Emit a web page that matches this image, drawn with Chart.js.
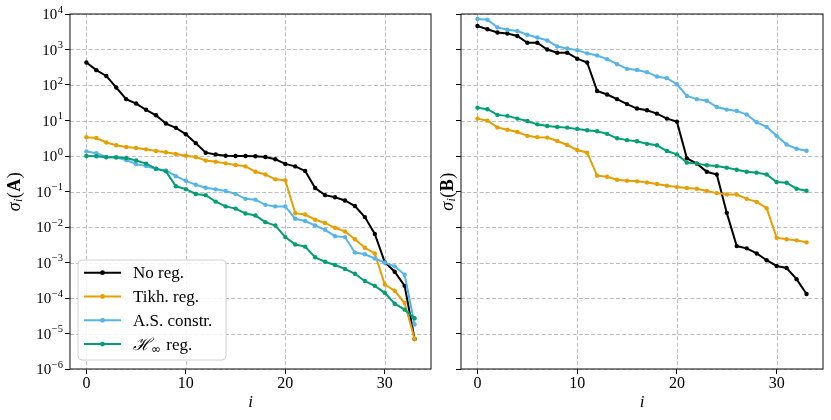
<!DOCTYPE html>
<html><head><meta charset="utf-8">
<script src="https://cdn.jsdelivr.net/npm/chart.js@4.4.1/dist/chart.umd.min.js"></script>
<style>
html,body{margin:0;padding:0;background:#fff;width:831px;height:420px;overflow:hidden}
#c1{position:absolute;left:0;top:0;width:440px;height:420px}
#c2{position:absolute;left:440px;top:0;width:391px;height:420px}
</style></head><body>
<canvas id="c1" width="440" height="420"></canvas>
<canvas id="c2" width="391" height="420"></canvas>
<script>
// ---------- data ----------
const indices = [0,1,2,3,4,5,6,7,8,9,10,11,12,13,14,15,16,17,18,19,20,21,22,23,24,25,26,27,28,29,30,31,32,33];
const xTickValues = [0, 10, 20, 30];
const yTickExponents = [-6,-5,-4,-3,-2,-1,0,1,2,3,4];
const seriesNames = ['No reg.', 'Tikh. reg.', 'A.S. constr.', 'H_inf reg.'];
const seriesColors = ['#000000', '#E69F00', '#56B4E9', '#009E73'];

const noRegA = [430,262,180,85,40,30,20,14,8.2,6.2,4.1,2.3,1.24,1.11,1.02,1.0,1.0,0.98,0.94,0.81,0.6,0.51,0.38,0.125,0.079,0.069,0.056,0.039,0.019,0.0064,0.00102,5.5e-4,2.2e-4,7e-6];
const tikhA  = [3.4,3.2,2.4,2.0,1.8,1.68,1.54,1.38,1.27,1.14,1.02,0.94,0.75,0.69,0.62,0.56,0.51,0.36,0.30,0.22,0.206,0.0245,0.0225,0.016,0.013,0.0095,0.0075,0.0045,0.0026,0.0018,2.4e-4,1.6e-4,7.2e-5,7e-6];
const asA    = [1.35,1.19,0.94,0.90,0.77,0.59,0.52,0.43,0.39,0.27,0.20,0.155,0.128,0.115,0.103,0.086,0.062,0.059,0.042,0.038,0.038,0.017,0.0147,0.011,0.0083,0.0055,0.0052,0.0019,0.0017,0.0013,0.001,7.8e-4,4.5e-4,1.8e-5];
const hinfA  = [1.0,0.98,0.92,0.92,0.88,0.75,0.61,0.44,0.37,0.14,0.117,0.085,0.079,0.052,0.038,0.033,0.024,0.021,0.0137,0.011,0.0052,0.0032,0.0028,0.0014,0.00105,8.5e-4,6.6e-4,4.8e-4,3.0e-4,2.2e-4,1.4e-4,6.9e-5,4.7e-5,2.7e-5];

const noRegB = [4570,3730,3000,2820,2400,1550,1550,1000,810,810,550,430,68,54,40,29,21.7,19.5,15.6,11.3,9.3,0.86,0.61,0.36,0.30,0.025,0.0029,0.0025,0.0018,0.00116,8.0e-4,7.0e-4,3.4e-4,1.3e-4];
const tikhB  = [11.3,9.9,6.4,5.5,4.75,3.7,3.4,3.3,2.65,2.04,1.48,1.24,0.28,0.26,0.215,0.2,0.193,0.18,0.162,0.145,0.133,0.125,0.12,0.103,0.09,0.082,0.082,0.062,0.051,0.034,0.005,0.0045,0.0042,0.0037];
const asB    = [7200,6900,4200,3600,3300,2600,2170,1800,1220,1070,960,780,680,535,385,285,265,230,173,156,105,49,40,36,24,20.3,18.6,14.7,8.9,6.6,3.7,2.1,1.6,1.4];
const hinfB  = [23,20.8,14.4,13.5,11.3,9.7,7.8,7.0,6.6,6.3,5.8,5.3,5.0,4.2,3.15,2.8,2.6,2.2,2.0,1.38,1.11,0.65,0.61,0.55,0.52,0.47,0.41,0.36,0.34,0.30,0.185,0.177,0.12,0.105];

// ---------- drawing helpers ----------
const SERIF = '"Liberation Serif", "DejaVu Serif", serif';
const SUP = {'-':'\u2212'};

function expText(e){ return String(e).split('').map(c => SUP[c] || c).join(''); }

function drawYTitle(ctx, cx, cy, matrixLetter){
  const parts = [
    {t:'\u03C3', f:'italic 18px ' + SERIF, dy:0},
    {t:'i', f:'italic 12px ' + SERIF, dy:4},
    {t:'(', f:'18px ' + SERIF, dy:0},
    {t:matrixLetter, f:'bold 18px ' + SERIF, dy:0},
    {t:')', f:'18px ' + SERIF, dy:0}
  ];
  ctx.save();
  let total = 0;
  parts.forEach(p => { ctx.font = p.f; p.w = ctx.measureText(p.t).width; total += p.w + 0.5; });
  ctx.translate(cx, cy);
  ctx.rotate(-Math.PI/2);
  ctx.fillStyle = '#000';
  ctx.textBaseline = 'middle';
  let x = -total/2;
  parts.forEach(p => { ctx.font = p.f; ctx.fillText(p.t, x, p.dy); x += p.w + 0.5; });
  ctx.restore();
}

function makeChart(canvasId, series, cfg){
  const datasets = series.map((s, k) => ({
    label: s.name,
    data: indices.map((x, j) => ({x: x, y: s.values[j]})),
    borderColor: s.color, backgroundColor: s.color,
    pointBackgroundColor: s.color, pointBorderColor: s.color,
    borderWidth: 2, pointRadius: 2.2, pointBorderWidth: 0, pointHoverRadius: 2.2,
    tension: 0, order: series.length - k
  }));

  const gridPlugin = {
    id: 'mplGrid',
    beforeDatasetsDraw(chart){
      const {ctx, chartArea: a, scales: {x, y}} = chart;
      ctx.save();
      ctx.strokeStyle = '#b5b5b5';
      ctx.lineWidth = 0.9;
      ctx.setLineDash([4, 2.2]);
      x.ticks.forEach(t => { const px = Math.round(x.getPixelForValue(t.value)) + 0.5;
        ctx.beginPath(); ctx.moveTo(px, a.top); ctx.lineTo(px, a.bottom); ctx.stroke(); });
      y.ticks.forEach(t => { const py = Math.round(y.getPixelForValue(t.value)) + 0.5;
        ctx.beginPath(); ctx.moveTo(a.left, py); ctx.lineTo(a.right, py); ctx.stroke(); });
      ctx.restore();
    },
    afterDatasetsDraw(chart){
      const {ctx, chartArea: a, scales: {y}} = chart;
      ctx.save();
      ctx.strokeStyle = '#222';
      ctx.lineWidth = 1.1;
      ctx.strokeRect(a.left, a.top, a.right - a.left, a.bottom - a.top);
      // y tick labels as 10^e
      if (cfg.yLabels){
        ctx.fillStyle = '#000';
        ctx.textBaseline = 'alphabetic';
        y.ticks.forEach((t, k) => {
          const py = y.getPixelForValue(t.value);
          const e = expText(yTickExponents[k]);
          ctx.font = '15px ' + SERIF; const wb = ctx.measureText('10').width;
          ctx.font = '10.5px ' + SERIF; const we = ctx.measureText(e).width;
          const right = a.left - 7;
          ctx.font = '15px ' + SERIF; ctx.textAlign = 'left';
          ctx.fillText('10', right - we - wb - 0.5, py + 5);
          ctx.font = '10.5px ' + SERIF;
          ctx.fillText(e, right - we, py - 1.5);
        });
      }
      drawYTitle(ctx, cfg.yTitleX, (a.top + a.bottom)/2, cfg.matrix);
      ctx.restore();
    },
    afterDraw(chart){
      if (!cfg.legend) return;
      const {ctx, chartArea: a} = chart;
      const bx = a.left + 8, by = a.bottom - 109, bw = 148, bh = 100;
      ctx.save();
      ctx.beginPath();
      ctx.roundRect(bx, by, bw, bh, 4);
      ctx.fillStyle = 'rgba(255,255,255,0.85)';
      ctx.fill();
      ctx.strokeStyle = '#d0d0d0';
      ctx.lineWidth = 1;
      ctx.stroke();
      series.forEach((s, k) => {
        const ry = by + 12.7 + k * 23.8;
        ctx.strokeStyle = s.color; ctx.fillStyle = s.color; ctx.lineWidth = 2;
        ctx.beginPath(); ctx.moveTo(bx + 6, ry); ctx.lineTo(bx + 43, ry); ctx.stroke();
        ctx.beginPath(); ctx.arc(bx + 24.5, ry, 2.4, 0, Math.PI*2); ctx.fill();
        ctx.fillStyle = '#000'; ctx.textBaseline = 'alphabetic'; ctx.textAlign = 'left';
        const tx = bx + 55, base = ry + 5.5;
        if (k === 3){
          ctx.font = 'italic 17px "DejaVu Serif", ' + SERIF;
          ctx.fillText('\u210B', tx, base);
          const w1 = ctx.measureText('\u210B').width;
          ctx.font = '12px "DejaVu Sans", ' + SERIF;
          ctx.fillText('\u221E', tx + w1, base + 3.5);
          const w2 = ctx.measureText('\u221E').width;
          ctx.font = '17px ' + SERIF;
          ctx.fillText(' reg.', tx + w1 + w2 + 1, base);
        } else {
          ctx.font = '17px ' + SERIF;
          ctx.fillText(s.name, tx, base);
        }
      });
      ctx.restore();
    }
  };

  return new Chart(document.getElementById(canvasId), {
    type: 'line',
    data: {datasets},
    plugins: [gridPlugin],
    options: {
      responsive: false, animation: false, devicePixelRatio: 1,
      layout: {padding: {top: 14, right: cfg.padRight, left: 0, bottom: 0}},
      plugins: {legend: {display: false}, tooltip: {enabled: false}},
      scales: {
        x: {
          type: 'linear', min: -1.65, max: 34.65,
          afterBuildTicks: s => { s.ticks = xTickValues.map(v => ({value: v})); },
          afterFit: s => { s.height = 51; },
          ticks: {color: '#000', font: {family: SERIF, size: 16}, padding: 0, callback: v => String(v), maxRotation: 0},
          grid: {drawOnChartArea: false, drawTicks: true, tickLength: 5, tickColor: '#000', tickWidth: 1},
          border: {display: false},
          title: {display: true, text: 'i', color: '#000', font: {family: SERIF, size: 17, style: 'italic'}, padding: {top: 0, bottom: 7}}
        },
        y: {
          type: 'logarithmic', min: 1e-6, max: 1e4,
          afterBuildTicks: s => { s.ticks = yTickExponents.map(e => ({value: Math.pow(10, e), major: true})); },
          afterFit: s => { s.width = cfg.yAxisWidth; },
          ticks: {display: false},
          grid: {drawOnChartArea: false, drawTicks: true, tickLength: 5, tickColor: '#000', tickWidth: 1},
          border: {display: false}
        }
      }
    }
  });
}

const seriesA = [noRegA, tikhA, asA, hinfA].map((v, k) => ({name: seriesNames[k], color: seriesColors[k], values: v}));
const seriesB = [noRegB, tikhB, asB, hinfB].map((v, k) => ({name: seriesNames[k], color: seriesColors[k], values: v}));

makeChart('c1', seriesA, {yAxisWidth: 70, padRight: 9, yLabels: true, legend: true, yTitleX: 15, matrix: 'A'});
makeChart('c2', seriesB, {yAxisWidth: 21, padRight: 8, yLabels: false, legend: false, yTitleX: 8, matrix: 'B'});
</script>
</body></html>
